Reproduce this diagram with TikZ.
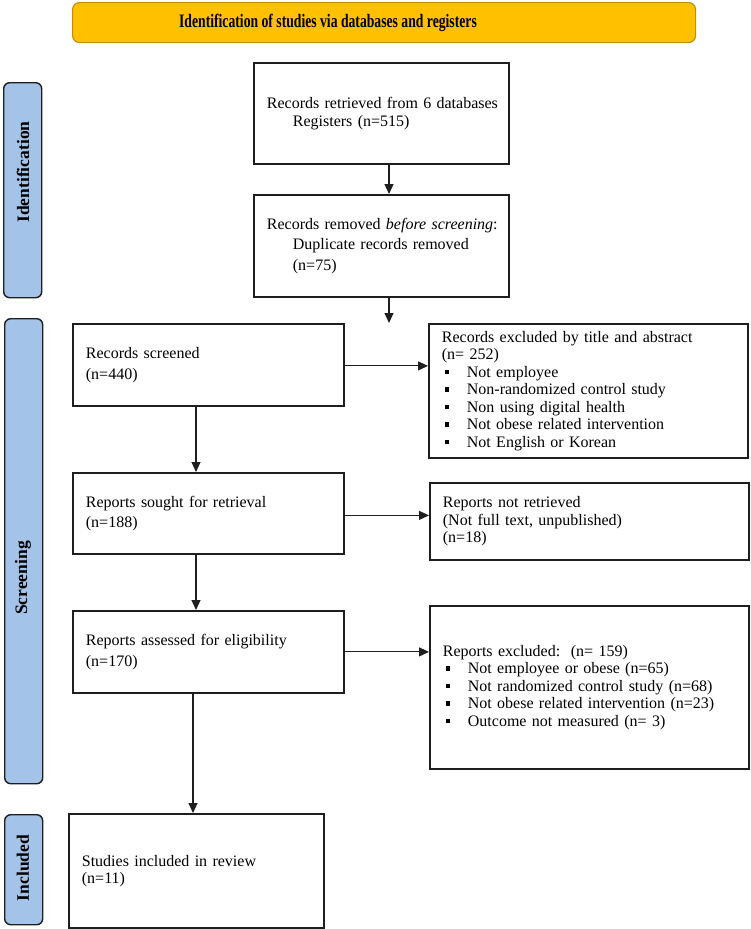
\documentclass[tikz,border=0pt]{standalone}
\usepackage{fontspec}
\setmainfont{Liberation Serif}
\usepackage{graphicx}
\usetikzlibrary{arrows.meta, positioning}
\definecolor{hdrgold}{RGB}{255,192,0}
\definecolor{hdredge}{RGB}{191,144,0}
\definecolor{sideblue}{RGB}{164,195,232}
\definecolor{edgegray}{RGB}{30,30,30}
\newcommand{\sqbul}[1]{\makebox[25pt][l]{\hspace{3pt}\rule[3pt]{4.5pt}{4.5pt}}#1}

\begin{document}
\begin{tikzpicture}[x=1pt,y=-1pt,
  box/.style={draw=edgegray, line width=1.8pt, anchor=north west, align=left,
    inner xsep=13pt, inner ysep=0pt, font=\fontsize{16}{17.5}\selectfont},
  wide/.style={font=\fontsize{16}{20.5}\selectfont},
  side/.style={draw=edgegray, fill=sideblue, line width=1.4pt, rounded corners=6pt,
    anchor=north west, inner sep=0pt, minimum width=38pt},
  sidelbl/.style={rotate=90, font=\fontsize{17.5}{17.5}\selectfont\bfseries},
  link/.style={draw=edgegray, line width=1.1pt, -{Triangle[length=10pt,width=9pt]}}]

\useasboundingbox (0,0) rectangle (750,929);

% header
\node[draw=hdredge, fill=hdrgold, line width=1.1pt, rounded corners=7pt, anchor=north west,
  minimum width=623pt, minimum height=40pt, inner sep=0pt] (hdr) at (72,2) {};
\node (title) at (328,23) {\scalebox{0.72}[1]{\fontsize{19}{19}\selectfont\bfseries Identification of studies via databases and registers}};

% side bars
\node[side, minimum height=215pt] (idbar) at (3,82) {};
\node[side, minimum height=465pt] (scbar) at (4,318) {};
\node[side, minimum height=110pt] (inbar) at (4,814) {};
\node[sidelbl] (idlbl) at (23,172) {Identification};
\node[sidelbl] (sclbl) at (23,578) {Screening};
\node[sidelbl] (inlbl) at (23,868) {Included};

% identification
\node[box, text width=229pt, minimum height=101pt] (rec) at (253,62)
  {\mbox{Records retrieved from 6 databases}\\\hspace*{26pt}Registers (n=515)};
\node[box, wide, text width=229pt, minimum height=102pt] (rem) at (253,194)
  {\mbox{Records removed \emph{before screening}:}\\\hspace*{26pt}\mbox{Duplicate records removed}\\\hspace*{26pt}(n=75)};

% screening
\node[box, wide, text width=245pt, minimum height=82pt] (scr) at (72,323)
  {Records screened\\(n=440)};
\node[box, text width=293pt, minimum height=134pt] (excl) at (428,323)
  {Records excluded by title and abstract\\(n= 252)\\\sqbul{Not employee}\\\sqbul{Non-randomized control study}\\
   \sqbul{Non using digital health}\\\sqbul{Not obese related intervention}\\\sqbul{Not English or Korean}};
\node[box, wide, text width=245pt, minimum height=81pt] (sought) at (72,472)
  {Reports sought for retrieval\\(n=188)};
\node[box, text width=293pt, minimum height=77pt] (nret) at (429,482)
  {Reports not retrieved\\(Not full text, unpublished)\\(n=18)};
\node[box, wide, text width=245pt, minimum height=82pt] (assess) at (72,610)
  {Reports assessed for eligibility\\(n=170)};
\node[box, text width=293pt, minimum height=163pt] (rexcl) at (429,605)
  {Reports excluded:\ \ (n= 159)\\\sqbul{Not employee or obese (n=65)}\\\sqbul{Not randomized control study (n=68)}\\
   \sqbul{Not obese related intervention (n=23)}\\\sqbul{Outcome not measured (n= 3)}};

% included
\node[box, text width=229pt, minimum height=114pt] (incl) at (68,813)
  {Studies included in review\\(n=11)};

% connectors
\coordinate (ax) at (389,0);
\coordinate (drop) at (389,323);
\coordinate (bx) at (196,0);
\coordinate (cx) at (193,0);
\draw[link] (rec.south -| ax) -- (rem.north -| ax);
\draw[link] (rem.south -| drop) -- (drop);
\draw[link] ([yshift=-1pt]scr.east) -- ([yshift=-1pt]scr.east -| excl.west);
\draw[link] (scr.south -| bx) -- (sought.north -| bx);
\draw[link] ([yshift=-2pt]sought.east) -- ([yshift=-2pt]sought.east -| nret.west);
\draw[link] (sought.south -| bx) -- (assess.north -| bx);
\draw[link] (assess.east) -- (assess.east -| rexcl.west);
\draw[link] (assess.south -| cx) -- (incl.north -| cx);
\end{tikzpicture}
\end{document}
